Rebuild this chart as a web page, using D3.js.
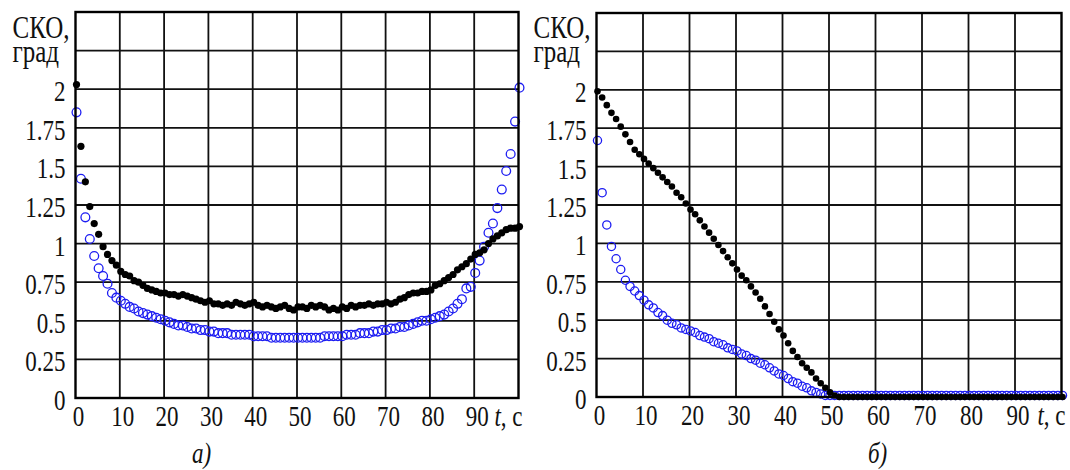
<!DOCTYPE html>
<html>
<head>
<meta charset="utf-8">
<script src="https://cdn.jsdelivr.net/npm/d3@7"></script>
<style>
  body { margin: 0; background: #fff; }
  svg { display: block; }
</style>
</head>
<body>
<div class="chart"></div>
<script>
// tick values / labels
const xTicks = [0, 10, 20, 30, 40, 50, 60, 70, 80, 90];
const yTicks = [0, 0.25, 0.5, 0.75, 1, 1.25, 1.5, 1.75, 2];
const yTickLabels = ["0", "0.25", "0.5", "0.75", "1", "1.25", "1.5", "1.75", "2"];
const yLabel = ["СКО,", "град"];
const captions = ["а)", "б)"];

// time, one point per second, 0..100
const time = d3.range(0, 101);

// panel a) - black dots
const blackA = [
  2.03, 1.63, 1.40, 1.24, 1.13, 1.06, 0.98, 0.93, 0.89, 0.86,
  0.82, 0.80, 0.79, 0.76, 0.75, 0.73, 0.71, 0.70, 0.69, 0.68,
  0.68, 0.67, 0.67, 0.66, 0.67, 0.66, 0.65, 0.64, 0.63, 0.62,
  0.63, 0.61, 0.61, 0.60, 0.61, 0.60, 0.62, 0.61, 0.60, 0.61,
  0.62, 0.60, 0.59, 0.60, 0.59, 0.58, 0.59, 0.60, 0.58, 0.57,
  0.59, 0.59, 0.58, 0.60, 0.59, 0.60, 0.59, 0.57, 0.58, 0.57,
  0.59, 0.58, 0.60, 0.59, 0.60, 0.60, 0.61, 0.60, 0.61, 0.61,
  0.62, 0.61, 0.62, 0.64, 0.65, 0.67, 0.68, 0.68, 0.69, 0.69,
  0.70, 0.73, 0.74, 0.76, 0.78, 0.80, 0.83, 0.85, 0.87, 0.90,
  0.93, 0.94, 0.96, 1.00, 1.03, 1.05, 1.07, 1.09, 1.10, 1.10,
  1.11
];
// panel a) - blue circles
const blueA = [
  1.85, 1.42, 1.17, 1.03, 0.92, 0.84, 0.79, 0.74, 0.68, 0.65,
  0.63, 0.61, 0.59, 0.58, 0.56, 0.55, 0.54, 0.53, 0.52, 0.51,
  0.50, 0.49, 0.48, 0.47, 0.47, 0.46, 0.45, 0.45, 0.44, 0.44,
  0.43, 0.43, 0.42, 0.42, 0.42, 0.41, 0.41, 0.41, 0.41, 0.41,
  0.40, 0.40, 0.40, 0.40, 0.39, 0.39, 0.39, 0.39, 0.39, 0.39,
  0.39, 0.39, 0.39, 0.39, 0.39, 0.39, 0.40, 0.40, 0.40, 0.40,
  0.40, 0.41, 0.41, 0.41, 0.42, 0.42, 0.42, 0.43, 0.43, 0.44,
  0.44, 0.45, 0.45, 0.46, 0.46, 0.47, 0.48, 0.49, 0.50, 0.50,
  0.51, 0.52, 0.53, 0.54, 0.56, 0.58, 0.61, 0.64, 0.71, 0.72,
  0.81, 0.89, 0.98, 1.07, 1.13, 1.23, 1.35, 1.47, 1.58, 1.79,
  2.01
];
// panel b) - black dots
const blackB = [
  1.99, 1.95, 1.90, 1.85, 1.81, 1.76, 1.71, 1.66, 1.61, 1.58,
  1.55, 1.52, 1.49, 1.46, 1.43, 1.40, 1.37, 1.33, 1.30, 1.26,
  1.22, 1.19, 1.15, 1.11, 1.07, 1.03, 0.99, 0.95, 0.91, 0.87,
  0.83, 0.79, 0.76, 0.72, 0.68, 0.64, 0.59, 0.54, 0.49, 0.44,
  0.40, 0.35, 0.30, 0.26, 0.22, 0.19, 0.16, 0.12, 0.09, 0.06,
  0.03, 0.01, 0.00, 0.00, 0.00, 0.00, 0.00, 0.00, 0.00, 0.00,
  0.00, 0.00, 0.00, 0.00, 0.00, 0.00, 0.00, 0.00, 0.00, 0.00,
  0.00, 0.00, 0.00, 0.00, 0.00, 0.00, 0.00, 0.00, 0.00, 0.00,
  0.00, 0.00, 0.00, 0.00, 0.00, 0.00, 0.00, 0.00, 0.00, 0.00,
  0.00, 0.00, 0.00, 0.00, 0.00, 0.00, 0.00, 0.00, 0.00, 0.00,
  0.00
];
// panel b) - blue circles
const blueB = [
  1.67, 1.33, 1.12, 0.98, 0.90, 0.83, 0.76, 0.72, 0.69, 0.66,
  0.63, 0.60, 0.58, 0.55, 0.53, 0.50, 0.48, 0.47, 0.45, 0.44,
  0.43, 0.42, 0.40, 0.39, 0.38, 0.36, 0.35, 0.34, 0.32, 0.31,
  0.30, 0.28, 0.27, 0.25, 0.24, 0.22, 0.21, 0.19, 0.17, 0.15,
  0.14, 0.12, 0.10, 0.09, 0.07, 0.06, 0.04, 0.03, 0.02, 0.01,
  0.01, 0.01, 0.01, 0.01, 0.01, 0.01, 0.01, 0.01, 0.01, 0.01,
  0.01, 0.01, 0.01, 0.01, 0.01, 0.01, 0.01, 0.01, 0.01, 0.01,
  0.01, 0.01, 0.01, 0.01, 0.01, 0.01, 0.01, 0.01, 0.01, 0.01,
  0.01, 0.01, 0.01, 0.01, 0.01, 0.01, 0.01, 0.01, 0.01, 0.01,
  0.01, 0.01, 0.01, 0.01, 0.01, 0.01, 0.01, 0.01, 0.01, 0.01,
  0.01
];

function init(){
    const w = 1070, h = 470;
    const font = '"Liberation Serif"';
    const stretch = 1.3; // source picture is squashed horizontally

    const svg = d3.select(".chart").append("svg").attr("width", w).attr("height", h);
    svg.append("rect").attr("width", w).attr("height", h).attr("fill", "#fff");

    const panels = [
        {left: 75.5, right: 518.5, top: 12, bottom: 398, black: blackA, blue: blueA,
         caption: captions[0], capX: 192, rBlack: 3.6, rBlue: 4.4},
        {left: 596.5, right: 1061.5, top: 13, bottom: 397, black: blackB, blue: blueB,
         caption: captions[1], capX: 868, rBlack: 3.3, rBlue: 4.1}
    ];

    // small helper: stretched text
    function label(g, x, y, str, size, anchor, style){
        return g.append("text")
            .attr("transform", `translate(${x},${y}) scale(1,${stretch})`)
            .attr("text-anchor", anchor)
            .style("font-family", font)
            .style("font-size", size + "px")
            .style("font-style", style || "normal")
            .attr("fill", "#111")
            .text(str);
    }

    panels.forEach(function(p){
        const x = d3.scaleLinear().domain([0, 100]).range([p.left, p.right]);
        const y = d3.scaleLinear().domain([0, 2.5]).range([p.bottom, p.top]);
        const g = svg.append("g");

        // grid
        g.selectAll(".vg").data(d3.range(10, 100, 10)).join("line")
            .attr("x1", d => x(d)).attr("x2", d => x(d))
            .attr("y1", p.top).attr("y2", p.bottom)
            .attr("stroke", "#111").attr("stroke-width", 1.8);
        g.selectAll(".hg").data([0.25, 0.5, 0.75, 1, 1.25, 1.5, 1.75, 2, 2.25]).join("line")
            .attr("x1", p.left).attr("x2", p.right)
            .attr("y1", d => y(d)).attr("y2", d => y(d))
            .attr("stroke", "#111").attr("stroke-width", 1.8);

        // blue hollow circles
        g.append("g").selectAll("circle").data(time).join("circle")
            .attr("cx", i => x(time[i]) + 1)
            .attr("cy", i => y(p.blue[i]))
            .attr("r", p.rBlue)
            .attr("fill", "none")
            .attr("stroke", "#1c1cf2")
            .attr("stroke-width", 1.3);

        // black dots on top
        g.append("g").selectAll("circle").data(time).join("circle")
            .attr("cx", i => x(time[i]) + 1)
            .attr("cy", i => y(p.black[i]))
            .attr("r", p.rBlack)
            .attr("fill", "#000");

        // frame
        g.append("rect")
            .attr("x", p.left).attr("y", p.top)
            .attr("width", p.right - p.left).attr("height", p.bottom - p.top)
            .attr("fill", "none").attr("stroke", "#000").attr("stroke-width", 2.4);

        // y tick labels
        yTicks.forEach(function(v, i){
            label(g, p.left - 10, y(v) + 12, yTickLabels[i], 23, "end");
        });
        // x tick labels
        xTicks.forEach(function(v){
            label(g, x(v) + 3, p.bottom + 28, String(v), 23, "middle");
        });
        // axis name for t
        const tl = label(g, p.right + 4, p.bottom + 28, "", 23, "end");
        tl.append("tspan").style("font-style", "italic").text("t");
        tl.append("tspan").text(", с");

        // y axis name, two lines in one text
        const yl = label(g, p.left - 63, 38, "", 25, "start");
        yl.append("tspan").attr("x", 0).attr("y", 0).text(yLabel[0]);
        yl.append("tspan").attr("x", 0).attr("y", 18.5).text(yLabel[1]);

        // caption
        label(g, p.capX, 463, p.caption, 23, "start", "italic");
    });
}
window.onload = init;
</script>
</body>
</html>
